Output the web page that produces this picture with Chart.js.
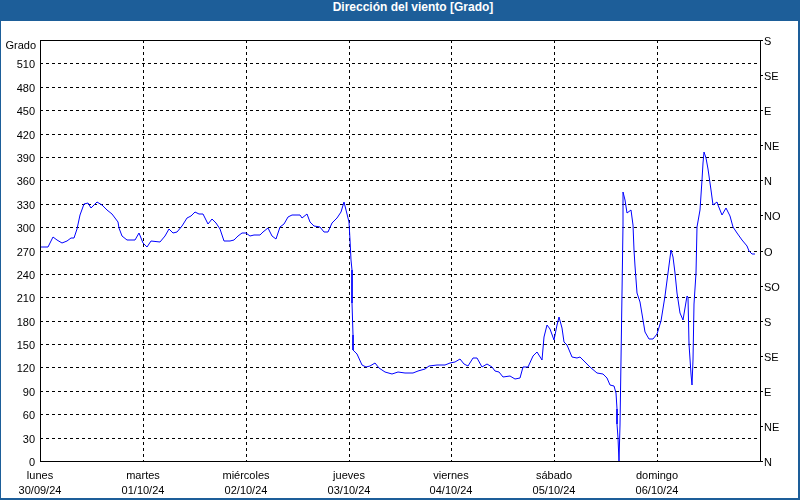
<!DOCTYPE html>
<html>
<head>
<meta charset="utf-8">
<title>Dirección del viento</title>
<script src="https://cdn.jsdelivr.net/npm/chart.js@4.4.1/dist/chart.umd.min.js"></script>
<style>
    body { margin: 0; }
    #frame { position: relative; width: 800px; height: 500px; background: #1d5e99; overflow: hidden; }
    #title { position: absolute; left: 0; top: 0; width: 826px; height: 21px; line-height: 21px; text-align: center; color: #fff; font: bold 12px "Liberation Sans", Arial, sans-serif; }
    #panel { position: absolute; left: 1px; top: 21px; width: 797px; height: 477px; background: #fff; }
    #chart { position: absolute; left: 0; top: 0; }
</style>
</head>
<body>
<div id="frame">
    <div id="title">Dirección del viento [Grado]</div>
    <div id="panel"></div>
    <canvas id="chart" width="800" height="500"></canvas>
</div>
<script>
// hours since lunes 30/09/24 00:00
const hours = [
    0, 1.9, 3.0, 3.9, 5.1, 6.2, 7.2, 8.0, 8.6, 9.3, 10.3, 11.3, 11.9, 12.7, 13.4, 14.4, 15.6, 16.7, 18.1, 18.5, 19.1, 20.4, 22.2, 23.1,
    24.1, 25.0, 25.9, 28.0, 29.2, 30.1, 31.1, 32.0, 33.1, 34.2, 35.2, 36.2, 37.1, 38.1, 39.1, 40.1, 41.0, 42.0, 43.0, 44.3, 45.3, 46.1, 47.1,
    48.0, 49.0, 50.0, 51.3, 52.1, 53.1, 54.1, 55.1, 56.0, 57.0, 57.9, 58.9, 60.7, 61.2, 62.2, 63.0, 64.0, 65.3, 66.3, 67.3, 68.2, 69.2, 70.2, 71.0,
    72.1, 72.3, 72.6, 72.8, 72.9, 73.0, 73.1, 74.0, 75.1, 76.1, 77.0, 78.2, 79.2, 80.5, 82.1, 83.6, 85.2, 87.1, 88.3, 89.8, 90.8, 92.6, 94.5, 95.7,
    96.8, 98.0, 98.9, 99.9, 101.1, 102.0, 103.1, 104.2, 105.4, 106.2, 107.2, 108.1, 109.7, 110.8, 112.0, 112.8, 113.9, 115.1, 116.0, 117.1, 117.6, 118.2, 119.1,
    120.0, 120.7, 121.2, 121.7, 122.3, 122.9, 124.1, 125.2, 126.1, 127.2, 128.3, 130.0, 131.4, 132.2, 133.0, 134.0, 134.4, 134.6, 134.7, 134.9, 135.2,
    135.3, 135.6, 135.8, 136.0, 136.1, 136.5, 137.0, 137.9, 138.3, 138.6, 138.9, 139.4, 140.0, 140.6, 141.2, 142.2, 143.1,
    144.0, 144.8, 145.8, 146.6, 147.2, 147.6, 148.2, 148.7, 149.3, 150.0, 150.9, 151.2, 151.5, 151.8, 152.1, 152.3, 152.7, 153.0, 153.2,
    154.0, 154.4, 154.8, 155.0, 155.4, 155.9, 156.5, 157.1, 157.9, 158.3, 159.1, 160.1, 161.0, 161.8, 162.6, 163.7, 164.9, 165.5, 166.1, 166.9
];
const direction = [
    275, 275, 287, 284, 280, 282, 286, 286, 297, 316, 330, 331, 325, 329, 332, 329, 322, 317, 307, 299, 288, 284, 284, 292,
    280, 275, 282, 281, 288, 297, 292, 294, 301, 312, 314, 319, 317, 317, 304, 310, 305, 297, 282, 282, 284, 288, 293,
    292, 288, 290, 290, 294, 299, 288, 285, 300, 304, 313, 315, 315, 312, 317, 307, 302, 300, 294, 294, 305, 312, 319, 332,
    307, 284, 258, 245, 203, 162, 142, 137, 123, 121, 122, 126, 119, 114, 112, 114, 113, 113, 116, 118, 122, 123, 123, 126,
    127, 131, 125, 122, 132, 132, 121, 124, 120, 116, 114, 108, 109, 105, 107, 120, 120, 135, 140, 130, 159, 175, 169,
    155, 174, 185, 170, 152, 149, 134, 132, 134, 127, 121, 113, 112, 106, 97, 96, 87, 67, 48, 30, 0,
    46, 130, 215, 303, 345, 335, 318, 322, 303, 271, 250, 215, 204, 181, 166, 157, 157,
    163, 180, 211, 241, 271, 262, 241, 215, 190, 181, 211, 210, 150, 112, 97, 130, 202, 241, 300,
    322, 361, 382, 396, 389, 374, 348, 328, 332, 329, 316, 324, 314, 300, 292, 284, 276, 269, 266, 266
];
const dayNames = ['lunes', 'martes', 'miércoles', 'jueves', 'viernes', 'sábado', 'domingo'];
const dayDates = ['30/09/24', '01/10/24', '02/10/24', '03/10/24', '04/10/24', '05/10/24', '06/10/24'];
const compassLabels = ['N', 'NE', 'E', 'SE', 'S', 'SO', 'O', 'NO', 'N', 'NE', 'E', 'SE', 'S'];

const FONT = '"Liberation Sans", Arial, sans-serif';

// solid box round the plot and the "Grado" caption above the left axis
const plotFrame = {
    id: 'plotFrame',
    afterDraw(chart) {
        const { ctx, chartArea: a } = chart;
        ctx.save();
        ctx.strokeStyle = '#000';
        ctx.lineWidth = 1;
        ctx.setLineDash([]);
        ctx.strokeRect(Math.round(a.left) + 0.5, Math.round(a.top) + 0.5,
            Math.round(a.right - a.left), Math.round(a.bottom - a.top));
        ctx.fillStyle = '#000';
        ctx.font = '11px ' + FONT;
        ctx.textAlign = 'right';
        ctx.textBaseline = 'middle';
        ctx.fillText('Grado', 36, 46);
        ctx.restore();
    }
};

const ctx = document.getElementById('chart').getContext('2d');
new Chart(ctx, {
    type: 'line',
    data: {
        datasets: [{
            data: hours.map((h, i) => ({ x: h, y: direction[i] })),
            borderColor: '#0000ff',
            borderWidth: 1,
            pointRadius: 0,
            tension: 0,
            fill: false,
            yAxisID: 'y'
        }]
    },
    options: {
        responsive: false,
        animation: false,
        layout: { padding: { top: 40 } },
        plugins: {
            legend: { display: false },
            tooltip: { enabled: false }
        },
        scales: {
            x: {
                type: 'linear',
                min: 0,
                max: 168,
                alignToPixels: true,
                afterFit: s => { s.height = 39; },
                ticks: {
                    stepSize: 24,
                    autoSkip: false,
                    maxRotation: 0,
                    padding: 7,
                    color: '#000',
                    font: { family: FONT, size: 11, lineHeight: 1.4 },
                    callback: v => v < 168 ? [dayNames[v / 24], dayDates[v / 24]] : ''
                },
                grid: { color: '#000', drawTicks: false },
                border: { display: false, dash: [3, 3] }
            },
            y: {
                position: 'left',
                min: 0,
                max: 540,
                alignToPixels: true,
                afterFit: s => { s.width = 40; },
                ticks: {
                    stepSize: 30,
                    autoSkip: false,
                    padding: 5,
                    labelOffset: 1.5,
                    color: '#000',
                    font: { family: FONT, size: 11 },
                    callback: v => v === 540 ? '' : v
                },
                grid: { color: '#000', drawTicks: false },
                border: { display: false, dash: [3, 3] }
            },
            y2: {
                position: 'right',
                min: 0,
                max: 540,
                alignToPixels: true,
                afterFit: s => { s.width = 40; },
                ticks: {
                    stepSize: 45,
                    autoSkip: false,
                    padding: 1,
                    labelOffset: 1.5,
                    color: '#000',
                    font: { family: FONT, size: 11 },
                    callback: v => compassLabels[v / 45]
                },
                grid: { drawOnChartArea: false, tickLength: 3, tickColor: '#000' },
                border: { display: false }
            }
        }
    },
    plugins: [plotFrame]
});
</script>
</body>
</html>
